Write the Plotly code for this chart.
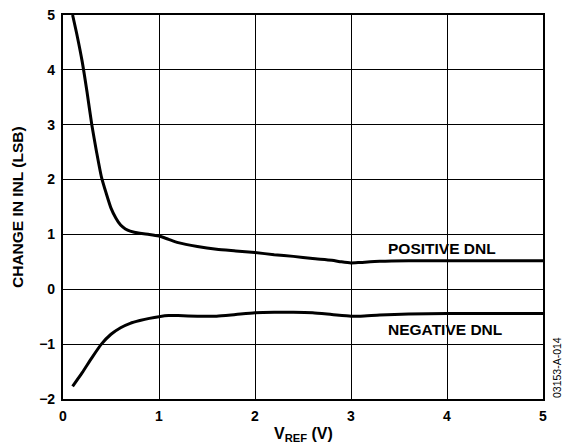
import plotly.graph_objects as go

pos_x = [0.10, 0.15, 0.20, 0.25, 0.30, 0.35, 0.40, 0.45, 0.50, 0.55, 0.60, 0.65, 0.70, 0.80, 0.90, 1.00, 1.10, 1.20, 1.40, 1.60, 1.80, 2.00, 2.20, 2.40, 2.60, 2.80, 2.90, 3.00, 3.10, 3.30, 3.60, 4.00, 4.50, 5.00]
pos_y = [5.00, 4.60, 4.15, 3.60, 3.00, 2.50, 2.05, 1.75, 1.48, 1.30, 1.17, 1.10, 1.06, 1.02, 1.00, 0.97, 0.91, 0.85, 0.78, 0.73, 0.70, 0.67, 0.63, 0.60, 0.56, 0.53, 0.50, 0.48, 0.49, 0.51, 0.52, 0.52, 0.52, 0.52]

neg_x = [0.10, 0.20, 0.30, 0.40, 0.50, 0.60, 0.70, 0.80, 0.90, 1.00, 1.10, 1.20, 1.40, 1.60, 1.80, 2.00, 2.20, 2.40, 2.60, 2.80, 3.00, 3.10, 3.30, 3.60, 4.00, 4.50, 5.00]
neg_y = [-1.77, -1.52, -1.25, -1.00, -0.82, -0.70, -0.62, -0.57, -0.53, -0.50, -0.48, -0.48, -0.49, -0.49, -0.46, -0.43, -0.42, -0.42, -0.43, -0.46, -0.49, -0.49, -0.47, -0.45, -0.44, -0.44, -0.44]

x_ticks = [0, 1, 2, 3, 4, 5]
y_ticks = [-2, -1, 0, 1, 2, 3, 4, 5]
y_tick_text = ["\u22122", "\u22121", "0", "1", "2", "3", "4", "5"]

FONT = "Liberation Sans, Arial, sans-serif"
L, R, T, B, W, H = 63, 25, 15, 49, 568, 448

def px_x(p):
    return (p - L) / (W - L - R)

def px_y(p):
    return (H - B - p) / (H - T - B)

fig = go.Figure()
for xs, ys in ((pos_x, pos_y), (neg_x, neg_y)):
    fig.add_trace(go.Scatter(x=xs, y=ys, mode="lines",
                             line=dict(color="black", width=3, shape="spline", smoothing=0.6),
                             hoverinfo="skip"))

fig.add_annotation(x=3.95, y=0.75, text="<b>POSITIVE DNL</b>", showarrow=False,
                   xanchor="center", yanchor="middle",
                   font=dict(family=FONT, size=15.5, color="black"))
fig.add_annotation(x=3.98, y=-0.73, text="<b>NEGATIVE DNL</b>", showarrow=False,
                   xanchor="center", yanchor="middle",
                   font=dict(family=FONT, size=15.5, color="black"))
fig.add_annotation(x=px_x(557), y=px_y(368), xref="paper", yref="paper",
                   text="03153-A-014", showarrow=False, textangle=-90,
                   xanchor="center", yanchor="middle",
                   font=dict(family=FONT, size=10.5, color="black"))
fig.add_annotation(x=0.5, y=px_y(434), xref="paper", yref="paper",
                   text="<b>V<sub>REF</sub> (V)</b>", showarrow=False,
                   xanchor="center", yanchor="middle",
                   font=dict(family=FONT, size=16, color="black"))
fig.add_annotation(x=px_x(17), y=px_y(207), xref="paper", yref="paper",
                   text="<b>CHANGE IN INL (LSB)</b>", showarrow=False, textangle=-90,
                   xanchor="center", yanchor="middle",
                   font=dict(family=FONT, size=15.5, color="black"))

axis_common = dict(showgrid=True, gridcolor="black", gridwidth=1.3, zeroline=False,
                   showline=True, linecolor="black", linewidth=2.2, mirror=True,
                   ticks="outside", ticklen=0, automargin=False,
                   tickfont=dict(family=FONT, size=14, color="black"))

fig.update_layout(
    width=W, height=H,
    margin=dict(l=L, r=R, t=T, b=B),
    plot_bgcolor="white", paper_bgcolor="white",
    showlegend=False,
    font=dict(family=FONT, size=13, color="black"),
    xaxis=dict(range=[0, 5], tickvals=x_ticks, ticktext=[f"<b>{v}</b>" for v in x_ticks],
               ticklabelstandoff=3, **axis_common),
    yaxis=dict(range=[-2, 5], tickvals=y_ticks, ticktext=[f"<b>{t}</b>" for t in y_tick_text],
               ticklabelstandoff=3, **axis_common),
)

fig.write_html("out.html", config={"displayModeBar": False},
               post_script="document.body.style.margin='0';document.body.style.overflow='hidden';")
